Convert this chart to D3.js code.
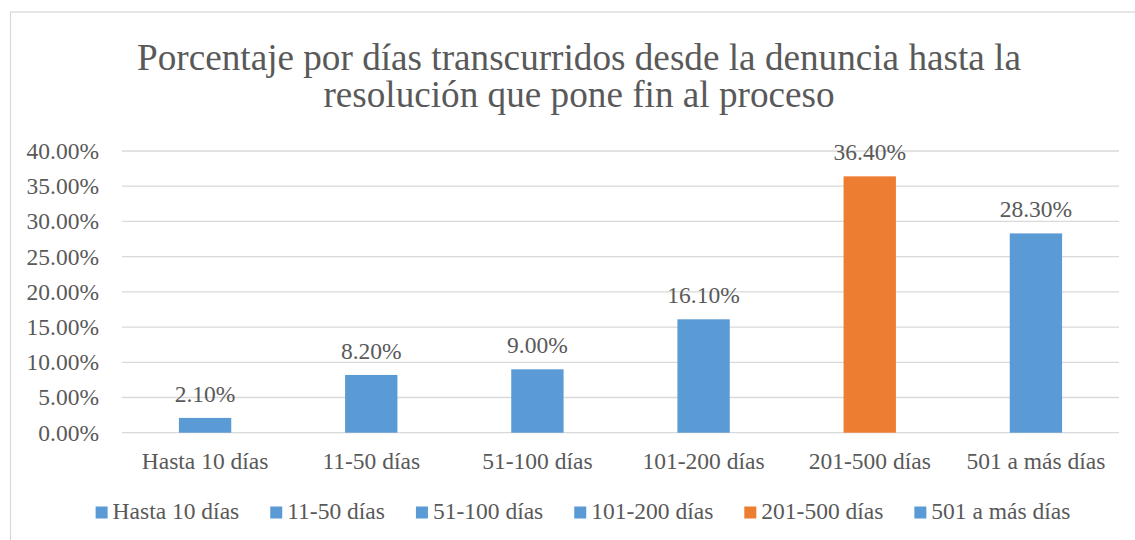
<!DOCTYPE html>
<html>
<head>
<meta charset="utf-8">
<script src="https://cdn.jsdelivr.net/npm/d3@7"></script>
</head>
<body style="margin:0;background:#fff">
<script>
// --- Data ---
const categories = ["Hasta 10 días", "11-50 días", "51-100 días", "101-200 días", "201-500 días", "501 a más días"];
const values = [2.1, 8.2, 9.0, 16.1, 36.4, 28.3];
const barColors = ["#5B9BD5", "#5B9BD5", "#5B9BD5", "#5B9BD5", "#ED7D31", "#5B9BD5"];
const yTicks = [0, 5, 10, 15, 20, 25, 30, 35, 40];
const titleLines = ["Porcentaje por días transcurridos desde la denuncia hasta la", "resolución que pone fin al proceso"];

// --- Layout ---
const W = 1135, H = 540;
const PLOT = { left: 122, right: 1119, top: 151, bottom: 432.7 };
const FONT = '"Liberation Serif"';
const TXT = "#595959";

const svg = d3.select("body").append("svg")
  .attr("width", W).attr("height", H);

// Chart border (extends past the right and bottom edges)
svg.append("rect")
  .attr("x", 10.5).attr("y", 12)
  .attr("width", 1200).attr("height", 600)
  .attr("fill", "#fff").attr("stroke", "#d9d9d9").attr("stroke-width", 1.3);

// Title
svg.selectAll("text.title")
  .data(titleLines)
  .enter().append("text")
  .attr("class", "title")
  .style("font-family", FONT)
  .attr("text-anchor", "middle")
  .attr("font-size", 37.2)
  .attr("fill", TXT)
  .attr("x", 579)
  .attr("y", (d, i) => 69.5 + i * 37.5)
  .text(d => d);

// --- Scales ---
const x = d3.scaleBand().domain(categories)
  .range([PLOT.left, PLOT.right]).paddingInner(0).paddingOuter(0);
const y = d3.scaleLinear().domain([0, 40]).range([PLOT.bottom, PLOT.top]);
const barW = x.bandwidth() * 0.315;

// Gridlines
svg.append("g")
  .selectAll("line")
  .data(yTicks)
  .enter().append("line")
  .attr("x1", PLOT.left).attr("x2", PLOT.right)
  .attr("y1", d => y(d)).attr("y2", d => y(d))
  .attr("stroke", "#d9d9d9").attr("stroke-width", 1.3);

// Y tick labels
svg.append("g")
  .selectAll("text")
  .data(yTicks)
  .enter().append("text")
  .style("font-family", FONT)
  .attr("x", 99).attr("y", d => y(d) + 8)
  .attr("text-anchor", "end")
  .attr("font-size", 23.5)
  .attr("fill", TXT)
  .text(d => d.toFixed(2) + "%");

// Bars
svg.append("g")
  .selectAll("rect")
  .data(values)
  .enter().append("rect")
  .attr("x", (d, i) => x(categories[i]) + x.bandwidth() / 2 - barW / 2)
  .attr("y", d => y(d))
  .attr("width", barW)
  .attr("height", d => y(0) - y(d))
  .attr("fill", (d, i) => barColors[i]);

// Data labels
svg.append("g")
  .selectAll("text")
  .data(values)
  .enter().append("text")
  .style("font-family", FONT)
  .attr("x", (d, i) => x(categories[i]) + x.bandwidth() / 2)
  .attr("y", d => y(d) - 16)
  .attr("text-anchor", "middle")
  .attr("font-size", 23.5)
  .attr("fill", TXT)
  .text(d => d.toFixed(2) + "%");

// X axis labels
svg.append("g")
  .selectAll("text")
  .data(categories)
  .enter().append("text")
  .style("font-family", FONT)
  .attr("x", d => x(d) + x.bandwidth() / 2)
  .attr("y", 468.5)
  .attr("text-anchor", "middle")
  .attr("font-size", 23.5)
  .attr("fill", TXT)
  .text(d => d);

// --- Legend ---
const SQ = 12, SQ_GAP = 5, ITEM_GAP = 31, LEG_Y = 519, LEG_CX = 583;
const legend = svg.append("g");
const items = legend.selectAll("g")
  .data(categories)
  .enter().append("g");

items.append("rect")
  .attr("width", SQ).attr("height", SQ)
  .attr("y", LEG_Y - 12.5)
  .attr("fill", (d, i) => barColors[i]);

items.append("text")
  .style("font-family", FONT)
  .attr("x", SQ + SQ_GAP)
  .attr("y", LEG_Y)
  .attr("font-size", 23.5)
  .attr("fill", TXT)
  .text(d => d);

const widths = [];
items.each(function() {
  const w = SQ + SQ_GAP + d3.select(this).select("text").node().getComputedTextLength();
  widths.push(w);
});
const total = d3.sum(widths) + ITEM_GAP * (widths.length - 1);
let cx = LEG_CX - total / 2;
items.attr("transform", (d, i) => {
  const t = `translate(${cx},0)`;
  cx += widths[i] + ITEM_GAP;
  return t;
});
</script>
</body>
</html>
